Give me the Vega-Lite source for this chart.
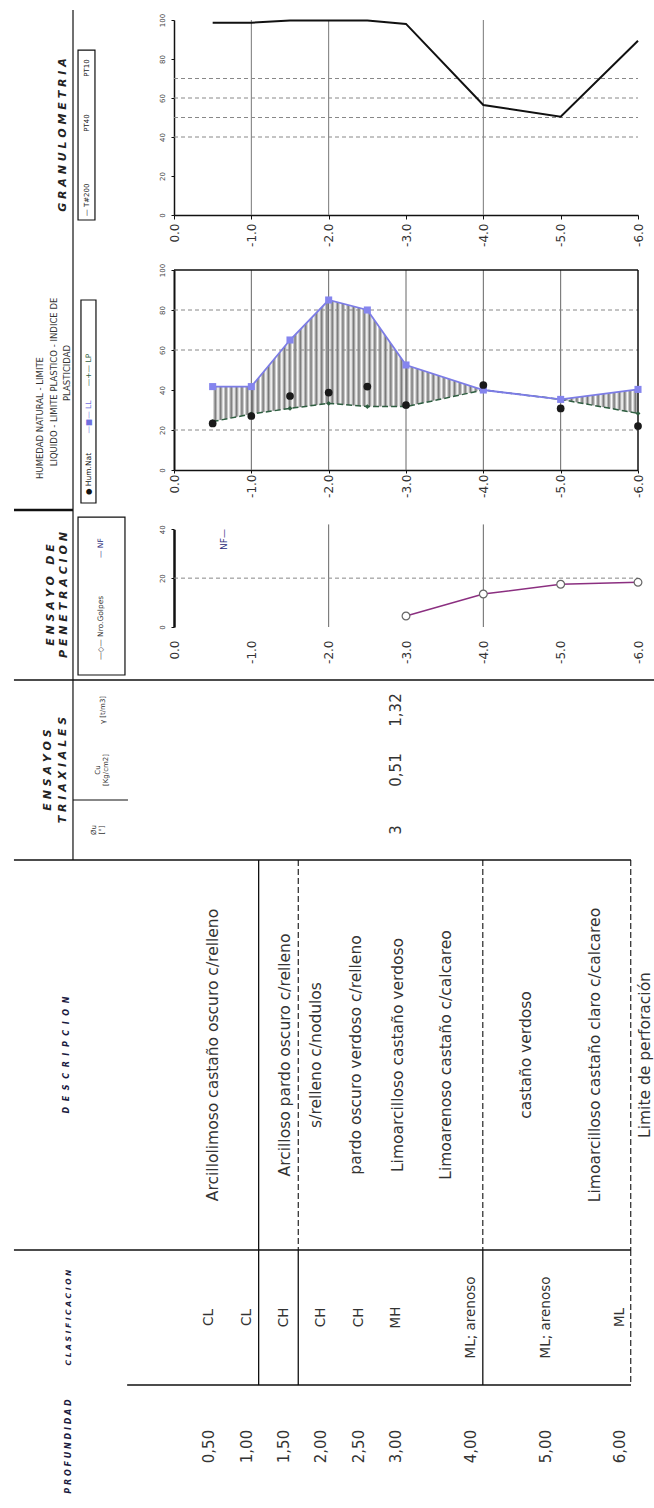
{
  "$schema": "https://vega.github.io/schema/vega-lite/v6.json",
  "padding": {"left": 12, "top": 0, "right": 0, "bottom": 0},
  "spacing": 0,
  "bounds": "flush",
  "resolve": {"scale": {"x": "independent", "y": "independent"}, "axis": {"x": "independent", "y": "independent"}},
  "config": {"view": {"stroke": null}, "font": "DejaVu Sans", "text": {"font": "DejaVu Sans"}},
  "datasets": {
    "samples": [
      {"depth": -0.5, "prof": "0,50", "clas": "CL", "gran": 98.6, "ll": 41.7, "lp": 24.2, "wn": 23.3},
      {"depth": -1.0, "prof": "1,00", "clas": "CL", "gran": 98.6, "ll": 41.7, "lp": 28.0, "wn": 27.0},
      {"depth": -1.5, "prof": "1,50", "clas": "CH", "gran": 99.8, "ll": 65.0, "lp": 30.8, "wn": 37.0},
      {"depth": -2.0, "prof": "2,00", "clas": "CH", "gran": 99.8, "ll": 85.0, "lp": 33.3, "wn": 38.7},
      {"depth": -2.5, "prof": "2,50", "clas": "CH", "gran": 99.8, "ll": 80.0, "lp": 31.7, "wn": 41.7},
      {"depth": -3.0, "prof": "3,00", "clas": "MH", "gran": 98.0, "ll": 52.5, "lp": 31.7, "wn": 32.5},
      {"depth": -4.0, "prof": "4,00", "clas": "ML; arenoso", "gran": 56.4, "ll": 40.0, "lp": 40.0, "wn": 42.5},
      {"depth": -5.0, "prof": "5,00", "clas": "ML; arenoso", "gran": 50.4, "ll": 35.3, "lp": 35.3, "wn": 30.8},
      {"depth": -6.0, "prof": "6,00", "clas": "ML", "gran": 89.4, "ll": 40.3, "lp": 28.3, "wn": 22.0}
    ],
    "spt": [
      {"depth": -3.0, "n": 4.5},
      {"depth": -4.0, "n": 13.5},
      {"depth": -5.0, "n": 17.5},
      {"depth": -6.0, "n": 18.3}
    ],
    "triax": [
      {"depth": -3.0, "col": "phi", "val": "3"},
      {"depth": -3.0, "col": "cu", "val": "0,51"},
      {"depth": -3.0, "col": "g", "val": "1,32"}
    ],
    "desc": [
      {"depth": -0.549, "text": "Arcillolimoso castaño oscuro c/relleno"},
      {"depth": -1.512, "text": "Arcilloso pardo oscuro c/relleno"},
      {"depth": -1.927, "text": "s/relleno c/nodulos"},
      {"depth": -2.463, "text": "pardo oscuro verdoso c/relleno"},
      {"depth": -3.025, "text": "Limoarcilloso castaño verdoso"},
      {"depth": -3.667, "text": "Limoarenoso castaño c/calcareo"},
      {"depth": -4.738, "text": "castaño verdoso"},
      {"depth": -5.661, "text": "Limoarcilloso castaño claro c/calcareo"},
      {"depth": -6.33, "text": "Limite de perforación"}
    ]
  },
  "vconcat": [
    {
      "width": 464, "height": 215,
      "layer": [
        {"data": {"values": [{"depth": -1}, {"depth": -2}, {"depth": -4}]},
         "mark": {"type": "rule", "color": "#777", "strokeWidth": 1},
         "encoding": {
           "x": {"field": "depth", "type": "quantitative", "scale": {"type": "linear", "domain": [0, -6], "nice": false, "zero": false},
                 "axis": {"title": null, "values": [0, -1, -2, -3, -4, -5, -6], "labelExpr": "(datum.value < 0 ? '-' : '') + format(abs(datum.value), '.1f')", "labelAngle": 270, "labelAlign": "right", "labelBaseline": "middle", "labelFontSize": 12, "labelFont": "DejaVu Sans", "labelColor": "#333", "domainColor": "#111", "domainWidth": 1.5, "tickColor": "#111", "tickSize": 4, "labelPadding": 4, "grid": false}},
           "y": {"datum": 0, "scale": {"type": "linear", "domain": [0, 100], "range": [215, 20], "nice": false, "zero": false},
                 "axis": {"title": null, "values": [0, 10, 20, 30, 40, 50, 60, 70, 80, 90, 100], "labelAngle": 270, "labelAlign": "center", "labelBaseline": "bottom", "labelFontSize": 7, "labelColor": "#444", "domainColor": "#111", "domainWidth": 1.5, "tickColor": "#111", "tickSize": 3, "labelPadding": 6, "grid": false}},
           "y2": {"datum": 100}
         }},
        {"data": {"values": [{"pct": 40}, {"pct": 50}, {"pct": 60}, {"pct": 70}]},
         "mark": {"type": "rule", "color": "#888", "strokeWidth": 1, "strokeDash": [4, 3]},
         "encoding": {"x": {"datum": 0}, "x2": {"datum": -6}, "y": {"field": "pct", "type": "quantitative"}}},
        {"data": {"name": "samples"},
         "mark": {"type": "line", "color": "#111", "strokeWidth": 2},
         "encoding": {"x": {"field": "depth", "type": "quantitative"}, "y": {"field": "gran", "type": "quantitative"}}},
        {"data": {"values": [{}]},
         "mark": {"type": "rule", "color": "#111", "strokeWidth": 1.2},
         "encoding": {"x": {"datum": 1.306}, "y": {"datum": 0}, "y2": {"datum": 105.1}}},
        {"data": {"values": [{}]},
         "mark": {"type": "text", "text": "G R A N U L O M E T R I A", "angle": 270, "fontSize": 11, "fontWeight": "bold", "fontStyle": "italic", "color": "#222", "align": "center", "baseline": "middle"},
         "encoding": {"x": {"datum": 1.435}, "y": {"datum": 41}}},
        {"data": {"values": [{}]},
         "mark": {"type": "rect", "filled": false, "color": "#111", "strokeWidth": 1.2},
         "encoding": {"x": {"datum": 1.241}, "x2": {"datum": 1.022}, "y": {"datum": -2.56}, "y2": {"datum": 84.6}}},
        {"data": {"values": [{}]},
         "mark": {"type": "text", "text": "— T#200", "angle": 270, "fontSize": 7, "color": "#222", "align": "center", "baseline": "middle"},
         "encoding": {"x": {"datum": 1.125}, "y": {"datum": 7.7}}},
        {"data": {"values": [{}]},
         "mark": {"type": "text", "text": "PT40", "angle": 270, "fontSize": 7, "color": "#222", "align": "center", "baseline": "middle"},
         "encoding": {"x": {"datum": 1.125}, "y": {"datum": 47.2}}},
        {"data": {"values": [{}]},
         "mark": {"type": "text", "text": "PT10", "angle": 270, "fontSize": 7, "color": "#222", "align": "center", "baseline": "middle"},
         "encoding": {"x": {"datum": 1.125}, "y": {"datum": 75.4}}}
      ]
    },
    {
      "width": 464, "height": 255,
      "layer": [
        {"data": {"name": "samples"},
         "mark": {"type": "area", "stroke": null, "fillOpacity": 1, "fill": {"gradient": "linear", "x1": 0, "y1": 0, "x2": 1, "y2": 0, "stops": [
           {"offset":0,"color":"#fff"},{"offset":0.00625,"color":"#777"},{"offset":0.0125,"color":"#fff"},{"offset":0.01875,"color":"#777"},{"offset":0.025,"color":"#fff"},{"offset":0.03125,"color":"#777"},{"offset":0.0375,"color":"#fff"},{"offset":0.04375,"color":"#777"},{"offset":0.05,"color":"#fff"},{"offset":0.05625,"color":"#777"},{"offset":0.0625,"color":"#fff"},{"offset":0.06875,"color":"#777"},{"offset":0.075,"color":"#fff"},{"offset":0.08125,"color":"#777"},{"offset":0.0875,"color":"#fff"},{"offset":0.09375,"color":"#777"},
           {"offset":0.1,"color":"#fff"},{"offset":0.10625,"color":"#777"},{"offset":0.1125,"color":"#fff"},{"offset":0.11875,"color":"#777"},{"offset":0.125,"color":"#fff"},{"offset":0.13125,"color":"#777"},{"offset":0.1375,"color":"#fff"},{"offset":0.14375,"color":"#777"},{"offset":0.15,"color":"#fff"},{"offset":0.15625,"color":"#777"},{"offset":0.1625,"color":"#fff"},{"offset":0.16875,"color":"#777"},{"offset":0.175,"color":"#fff"},{"offset":0.18125,"color":"#777"},{"offset":0.1875,"color":"#fff"},{"offset":0.19375,"color":"#777"},
           {"offset":0.2,"color":"#fff"},{"offset":0.20625,"color":"#777"},{"offset":0.2125,"color":"#fff"},{"offset":0.21875,"color":"#777"},{"offset":0.225,"color":"#fff"},{"offset":0.23125,"color":"#777"},{"offset":0.2375,"color":"#fff"},{"offset":0.24375,"color":"#777"},{"offset":0.25,"color":"#fff"},{"offset":0.25625,"color":"#777"},{"offset":0.2625,"color":"#fff"},{"offset":0.26875,"color":"#777"},{"offset":0.275,"color":"#fff"},{"offset":0.28125,"color":"#777"},{"offset":0.2875,"color":"#fff"},{"offset":0.29375,"color":"#777"},
           {"offset":0.3,"color":"#fff"},{"offset":0.30625,"color":"#777"},{"offset":0.3125,"color":"#fff"},{"offset":0.31875,"color":"#777"},{"offset":0.325,"color":"#fff"},{"offset":0.33125,"color":"#777"},{"offset":0.3375,"color":"#fff"},{"offset":0.34375,"color":"#777"},{"offset":0.35,"color":"#fff"},{"offset":0.35625,"color":"#777"},{"offset":0.3625,"color":"#fff"},{"offset":0.36875,"color":"#777"},{"offset":0.375,"color":"#fff"},{"offset":0.38125,"color":"#777"},{"offset":0.3875,"color":"#fff"},{"offset":0.39375,"color":"#777"},
           {"offset":0.4,"color":"#fff"},{"offset":0.40625,"color":"#777"},{"offset":0.4125,"color":"#fff"},{"offset":0.41875,"color":"#777"},{"offset":0.425,"color":"#fff"},{"offset":0.43125,"color":"#777"},{"offset":0.4375,"color":"#fff"},{"offset":0.44375,"color":"#777"},{"offset":0.45,"color":"#fff"},{"offset":0.45625,"color":"#777"},{"offset":0.4625,"color":"#fff"},{"offset":0.46875,"color":"#777"},{"offset":0.475,"color":"#fff"},{"offset":0.48125,"color":"#777"},{"offset":0.4875,"color":"#fff"},{"offset":0.49375,"color":"#777"},
           {"offset":0.5,"color":"#fff"},{"offset":0.50625,"color":"#777"},{"offset":0.5125,"color":"#fff"},{"offset":0.51875,"color":"#777"},{"offset":0.525,"color":"#fff"},{"offset":0.53125,"color":"#777"},{"offset":0.5375,"color":"#fff"},{"offset":0.54375,"color":"#777"},{"offset":0.55,"color":"#fff"},{"offset":0.55625,"color":"#777"},{"offset":0.5625,"color":"#fff"},{"offset":0.56875,"color":"#777"},{"offset":0.575,"color":"#fff"},{"offset":0.58125,"color":"#777"},{"offset":0.5875,"color":"#fff"},{"offset":0.59375,"color":"#777"},
           {"offset":0.6,"color":"#fff"},{"offset":0.60625,"color":"#777"},{"offset":0.6125,"color":"#fff"},{"offset":0.61875,"color":"#777"},{"offset":0.625,"color":"#fff"},{"offset":0.63125,"color":"#777"},{"offset":0.6375,"color":"#fff"},{"offset":0.64375,"color":"#777"},{"offset":0.65,"color":"#fff"},{"offset":0.65625,"color":"#777"},{"offset":0.6625,"color":"#fff"},{"offset":0.66875,"color":"#777"},{"offset":0.675,"color":"#fff"},{"offset":0.68125,"color":"#777"},{"offset":0.6875,"color":"#fff"},{"offset":0.69375,"color":"#777"},
           {"offset":0.7,"color":"#fff"},{"offset":0.70625,"color":"#777"},{"offset":0.7125,"color":"#fff"},{"offset":0.71875,"color":"#777"},{"offset":0.725,"color":"#fff"},{"offset":0.73125,"color":"#777"},{"offset":0.7375,"color":"#fff"},{"offset":0.74375,"color":"#777"},{"offset":0.75,"color":"#fff"},{"offset":0.75625,"color":"#777"},{"offset":0.7625,"color":"#fff"},{"offset":0.76875,"color":"#777"},{"offset":0.775,"color":"#fff"},{"offset":0.78125,"color":"#777"},{"offset":0.7875,"color":"#fff"},{"offset":0.79375,"color":"#777"},
           {"offset":0.8,"color":"#fff"},{"offset":0.80625,"color":"#777"},{"offset":0.8125,"color":"#fff"},{"offset":0.81875,"color":"#777"},{"offset":0.825,"color":"#fff"},{"offset":0.83125,"color":"#777"},{"offset":0.8375,"color":"#fff"},{"offset":0.84375,"color":"#777"},{"offset":0.85,"color":"#fff"},{"offset":0.85625,"color":"#777"},{"offset":0.8625,"color":"#fff"},{"offset":0.86875,"color":"#777"},{"offset":0.875,"color":"#fff"},{"offset":0.88125,"color":"#777"},{"offset":0.8875,"color":"#fff"},{"offset":0.89375,"color":"#777"},
           {"offset":0.9,"color":"#fff"},{"offset":0.90625,"color":"#777"},{"offset":0.9125,"color":"#fff"},{"offset":0.91875,"color":"#777"},{"offset":0.925,"color":"#fff"},{"offset":0.93125,"color":"#777"},{"offset":0.9375,"color":"#fff"},{"offset":0.94375,"color":"#777"},{"offset":0.95,"color":"#fff"},{"offset":0.95625,"color":"#777"},{"offset":0.9625,"color":"#fff"},{"offset":0.96875,"color":"#777"},{"offset":0.975,"color":"#fff"},{"offset":0.98125,"color":"#777"},{"offset":0.9875,"color":"#fff"},{"offset":0.99375,"color":"#777"},
           {"offset":1,"color":"#fff"}
         ]}},
         "encoding": {
           "x": {"field": "depth", "type": "quantitative", "scale": {"type": "linear", "domain": [0, -6], "nice": false, "zero": false},
                 "axis": {"title": null, "values": [0, -1, -2, -3, -4, -5, -6], "labelExpr": "(datum.value < 0 ? '-' : '') + format(abs(datum.value), '.1f')", "labelAngle": 270, "labelAlign": "right", "labelBaseline": "middle", "labelFontSize": 12, "labelFont": "DejaVu Sans", "labelColor": "#333", "domainColor": "#111", "domainWidth": 1.5, "tickColor": "#111", "tickSize": 3, "labelPadding": 1, "grid": false}},
           "y": {"field": "ll", "type": "quantitative", "scale": {"type": "linear", "domain": [0, 100], "range": [255, 55], "nice": false, "zero": false},
                 "axis": {"title": null, "values": [0, 10, 20, 30, 40, 50, 60, 70, 80, 90, 100], "labelAngle": 270, "labelAlign": "center", "labelBaseline": "bottom", "labelFontSize": 7, "labelColor": "#444", "domainColor": "#111", "domainWidth": 2, "tickColor": "#111", "tickSize": 3, "labelPadding": 6, "grid": false}},
           "y2": {"field": "lp"}
         }},
        {"data": {"values": [{"depth": -1}, {"depth": -2}, {"depth": -3}, {"depth": -4}, {"depth": -5}]},
         "mark": {"type": "rule", "color": "#666", "strokeWidth": 1},
         "encoding": {"x": {"field": "depth", "type": "quantitative"}, "y": {"datum": 0}, "y2": {"datum": 100}}},
        {"data": {"values": [{"pct": 20}, {"pct": 60}, {"pct": 80}]},
         "mark": {"type": "rule", "color": "#888", "strokeWidth": 1, "strokeDash": [4, 3]},
         "encoding": {"x": {"datum": 0}, "x2": {"datum": -6}, "y": {"field": "pct", "type": "quantitative"}}},
        {"data": {"values": [{}]},
         "mark": {"type": "rule", "color": "#111", "strokeWidth": 1.5},
         "encoding": {"x": {"datum": 0}, "x2": {"datum": -6}, "y": {"datum": 100}}},
        {"data": {"values": [{}]},
         "mark": {"type": "rule", "color": "#111", "strokeWidth": 1.5},
         "encoding": {"x": {"datum": -6}, "y": {"datum": 0}, "y2": {"datum": 100}}},
        {"data": {"name": "samples"},
         "mark": {"type": "line", "color": "#2e5e40", "strokeWidth": 1.5, "strokeDash": [6, 3]},
         "encoding": {"x": {"field": "depth", "type": "quantitative"}, "y": {"field": "lp", "type": "quantitative"}}},
        {"data": {"name": "samples"},
         "mark": {"type": "point", "shape": "diamond", "size": 24, "filled": true, "color": "#2e5e40", "opacity": 1},
         "encoding": {"x": {"field": "depth", "type": "quantitative"}, "y": {"field": "lp", "type": "quantitative"}}},
        {"data": {"name": "samples"},
         "mark": {"type": "line", "color": "#7c7ce6", "strokeWidth": 1.8, "point": {"shape": "square", "size": 50, "filled": true, "color": "#8585ee", "opacity": 1}},
         "encoding": {"x": {"field": "depth", "type": "quantitative"}, "y": {"field": "ll", "type": "quantitative"}}},
        {"data": {"name": "samples"},
         "mark": {"type": "point", "shape": "circle", "size": 60, "filled": true, "color": "#1a1a1a", "opacity": 1},
         "encoding": {"x": {"field": "depth", "type": "quantitative"}, "y": {"field": "wn", "type": "quantitative"}}},
        {"data": {"values": [{}]},
         "mark": {"type": "rule", "color": "#111", "strokeWidth": 1.2},
         "encoding": {"x": {"datum": 1.306}, "y": {"datum": 0}, "y2": {"datum": 127.5}}},
        {"data": {"values": [{}]},
         "mark": {"type": "text", "text": "HUMEDAD NATURAL - LIMITE", "angle": 270, "fontSize": 8.5, "color": "#333", "align": "center", "baseline": "middle"},
         "encoding": {"x": {"datum": 1.733}, "y": {"datum": 26}}},
        {"data": {"values": [{}]},
         "mark": {"type": "text", "text": "LIQUIDO - LIMITE PLASTICO - INDICE DE", "angle": 270, "fontSize": 8.5, "color": "#333", "align": "center", "baseline": "middle"},
         "encoding": {"x": {"datum": 1.552}, "y": {"datum": 44}}},
        {"data": {"values": [{}]},
         "mark": {"type": "text", "text": "PLASTICIDAD", "angle": 270, "fontSize": 8.5, "color": "#333", "align": "center", "baseline": "middle"},
         "encoding": {"x": {"datum": 1.384}, "y": {"datum": 48.5}}},
        {"data": {"values": [{}]},
         "mark": {"type": "rect", "filled": false, "color": "#111", "strokeWidth": 1.2},
         "encoding": {"x": {"datum": 1.203}, "x2": {"datum": 1.009}, "y": {"datum": -16.5}, "y2": {"datum": 85}}},
        {"data": {"values": [{}]},
         "mark": {"type": "text", "text": "● Hum.Nat", "angle": 270, "fontSize": 7.5, "color": "#111", "align": "center", "baseline": "middle"},
         "encoding": {"x": {"datum": 1.099}, "y": {"datum": -2}}},
        {"data": {"values": [{}]},
         "mark": {"type": "text", "text": "—■— LL", "angle": 270, "fontSize": 7.5, "color": "#6f6fe0", "align": "center", "baseline": "middle"},
         "encoding": {"x": {"datum": 1.099}, "y": {"datum": 26.5}}},
        {"data": {"values": [{}]},
         "mark": {"type": "text", "text": "—+— LP", "angle": 270, "fontSize": 7.5, "color": "#2e5e40", "align": "center", "baseline": "middle"},
         "encoding": {"x": {"datum": 1.099}, "y": {"datum": 50}}}
      ]
    },
    {
      "width": 464, "height": 157,
      "layer": [
        {"data": {"values": [{"depth": -2}, {"depth": -4}]},
         "mark": {"type": "rule", "color": "#666", "strokeWidth": 1},
         "encoding": {
           "x": {"field": "depth", "type": "quantitative", "scale": {"type": "linear", "domain": [0, -6], "nice": false, "zero": false},
                 "axis": {"title": null, "values": [0, -1, -2, -3, -4, -5, -6], "labelExpr": "(datum.value < 0 ? '-' : '') + format(abs(datum.value), '.1f')", "labelAngle": 270, "labelAlign": "right", "labelBaseline": "middle", "labelFontSize": 12, "labelFont": "DejaVu Sans", "labelColor": "#333", "domain": false, "ticks": false, "labelPadding": 13, "grid": false}},
           "y": {"datum": 0, "scale": {"type": "linear", "domain": [0, 40], "range": [157, 59.3], "nice": false, "zero": false},
                 "axis": {"title": null, "values": [0, 10, 20, 30, 40], "labelAngle": 270, "labelAlign": "center", "labelBaseline": "bottom", "labelFontSize": 7, "labelColor": "#444", "domainColor": "#111", "domainWidth": 2.5, "tickColor": "#111", "tickSize": 3, "labelPadding": 6, "grid": false}},
           "y2": {"datum": 42}
         }},
        {"data": {"values": [{"n": 20}]},
         "mark": {"type": "rule", "color": "#888", "strokeWidth": 1, "strokeDash": [4, 3]},
         "encoding": {"x": {"datum": 0}, "x2": {"datum": -6}, "y": {"field": "n", "type": "quantitative"}}},
        {"data": {"name": "spt"},
         "mark": {"type": "line", "color": "#8b2f80", "strokeWidth": 1.5, "point": {"shape": "circle", "size": 60, "filled": true, "fill": "#fff", "stroke": "#666", "strokeWidth": 1.2, "opacity": 1}},
         "encoding": {"x": {"field": "depth", "type": "quantitative"}, "y": {"field": "n", "type": "quantitative"}}},
        {"data": {"values": [{"depth": -0.65}]},
         "mark": {"type": "text", "text": "NF—", "angle": 270, "fontSize": 9, "color": "#1f2a7a", "align": "center", "baseline": "middle"},
         "encoding": {"x": {"field": "depth", "type": "quantitative"}, "y": {"datum": 35.8}}},
        {"data": {"values": [{}]},
         "mark": {"type": "rule", "color": "#111", "strokeWidth": 1.2},
         "encoding": {"x": {"datum": 1.306}, "y": {"datum": 0}, "y2": {"datum": 64.3}}},
        {"data": {"values": [{}]},
         "mark": {"type": "rule", "color": "#111", "strokeWidth": 2.5},
         "encoding": {"x": {"datum": 2.069}, "x2": {"datum": 1.306}, "y": {"datum": 47.9}}},
        {"data": {"values": [{}]},
         "mark": {"type": "text", "text": ["E N S A Y O \u00a0 D E", "P E N E T R A C I O N"], "lineHeight": 13, "angle": 270, "fontSize": 11, "fontWeight": "bold", "fontStyle": "italic", "color": "#222", "align": "center", "baseline": "middle"},
         "encoding": {"x": {"datum": 1.591}, "y": {"datum": 13.1}}},
        {"data": {"values": [{}]},
         "mark": {"type": "rect", "filled": false, "color": "#111", "strokeWidth": 1.2},
         "encoding": {"x": {"datum": 1.241}, "x2": {"datum": 0.634}, "y": {"datum": -19.65}, "y2": {"datum": 45}}},
        {"data": {"values": [{}]},
         "mark": {"type": "text", "text": "—◇— Nro.Golpes", "angle": 270, "fontSize": 7.5, "color": "#333", "align": "center", "baseline": "middle"},
         "encoding": {"x": {"datum": 0.944}, "y": {"datum": -0.4}}},
        {"data": {"values": [{}]},
         "mark": {"type": "text", "text": "— NF", "angle": 270, "fontSize": 7.5, "color": "#1f2a7a", "align": "center", "baseline": "middle"},
         "encoding": {"x": {"datum": 0.944}, "y": {"datum": 32.3}}}
      ]
    },
    {
      "width": 464, "height": 233,
      "layer": [
        {"data": {"name": "triax"},
         "mark": {"type": "text", "angle": 270, "fontSize": 15, "color": "#333", "align": "center", "baseline": "middle"},
         "encoding": {
           "x": {"field": "depth", "type": "quantitative", "scale": {"type": "linear", "domain": [-0.027, -6.237], "nice": false, "zero": false}, "axis": null},
           "y": {"field": "col", "type": "nominal", "scale": {"type": "band", "domain": ["g", "cu", "phi"], "range": [53, 233], "paddingInner": 0, "paddingOuter": 0}, "axis": null},
           "text": {"field": "val"}
         }},
        {"data": {"values": [{}]},
         "mark": {"type": "rule", "color": "#111", "strokeWidth": 1.3},
         "encoding": {"x": {"datum": 2.115}, "x2": {"datum": -6.464}, "y": {"datum": "g", "bandPosition": 0}}},
        {"data": {"values": [{}]},
         "mark": {"type": "rule", "color": "#111", "strokeWidth": 1.2},
         "encoding": {"x": {"datum": 1.325}}},
        {"data": {"values": [{}]},
         "mark": {"type": "rule", "color": "#111", "strokeWidth": 1.2},
         "encoding": {"x": {"datum": 1.325}, "x2": {"datum": 0.589}, "y": {"datum": "phi", "bandPosition": 0}}},
        {"data": {"values": [{}]},
         "mark": {"type": "text", "text": ["E N S A Y O S", "T R I A X I A L E S"], "lineHeight": 15, "angle": 270, "fontSize": 11, "fontWeight": "bold", "fontStyle": "italic", "color": "#222", "align": "center", "baseline": "middle"},
         "encoding": {"x": {"datum": 1.66}, "y": {"datum": "cu"}}},
        {"data": {"values": [{}]},
         "mark": {"type": "text", "text": "γ [t/m3]", "angle": 270, "fontSize": 7, "color": "#333", "align": "center", "baseline": "middle"},
         "encoding": {"x": {"datum": 0.92}, "y": {"datum": "g"}}},
        {"data": {"values": [{}]},
         "mark": {"type": "text", "text": ["Cu", "[Kg/cm2]"], "lineHeight": 8, "angle": 270, "fontSize": 7, "color": "#333", "align": "center", "baseline": "middle"},
         "encoding": {"x": {"datum": 0.99}, "y": {"datum": "cu"}}},
        {"data": {"values": [{}]},
         "mark": {"type": "text", "text": ["Øu", "[°]"], "lineHeight": 8, "angle": 270, "fontSize": 7, "color": "#333", "align": "center", "baseline": "middle"},
         "encoding": {"x": {"datum": 1.04}, "y": {"datum": "phi"}}}
      ]
    },
    {
      "width": 464, "height": 390,
      "layer": [
        {"data": {"values": [{"depth": -1.16}]},
         "mark": {"type": "rule", "color": "#111", "strokeWidth": 1.3},
         "encoding": {"x": {"field": "depth", "type": "quantitative", "scale": {"type": "linear", "domain": [-0.027, -6.237], "nice": false, "zero": false}, "axis": null}}},
        {"data": {"values": [{"depth": -1.69}, {"depth": -4.16}, {"depth": -6.14}]},
         "mark": {"type": "rule", "color": "#111", "strokeWidth": 1.1, "strokeDash": [6, 3]},
         "encoding": {"x": {"field": "depth", "type": "quantitative"}}},
        {"data": {"values": [{}]},
         "mark": {"type": "rule", "color": "#111", "strokeWidth": 1.3},
         "encoding": {"x": {"datum": 2.115}, "x2": {"datum": -6.143}, "y": {"datum": 1, "scale": {"type": "linear", "domain": [0, 1], "nice": false, "zero": false}, "axis": null}}},
        {"data": {"values": [{}]},
         "mark": {"type": "rule", "color": "#111", "strokeWidth": 1.3},
         "encoding": {"x": {"datum": 2.115}, "x2": {"datum": -6.143}, "y": {"datum": 0}}},
        {"data": {"name": "desc"},
         "mark": {"type": "text", "angle": 270, "fontSize": 15.5, "color": "#333", "align": "center", "baseline": "middle"},
         "encoding": {"x": {"field": "depth", "type": "quantitative"}, "text": {"field": "text"}}},
        {"data": {"values": [{}]},
         "mark": {"type": "text", "text": "D \u00a0E \u00a0S \u00a0C \u00a0R \u00a0I \u00a0P \u00a0C \u00a0I \u00a0O \u00a0N", "angle": 270, "fontSize": 8, "fontWeight": "bold", "fontStyle": "italic", "color": "#1a1a40", "align": "center", "baseline": "middle"},
         "encoding": {"x": {"datum": 1.405}}}
      ]
    },
    {
      "width": 464, "height": 135,
      "layer": [
        {"data": {"values": [{"depth": -1.16}, {"depth": -1.69}, {"depth": -4.16}]},
         "mark": {"type": "rule", "color": "#111", "strokeWidth": 1.3},
         "encoding": {"x": {"field": "depth", "type": "quantitative", "scale": {"type": "linear", "domain": [-0.027, -6.237], "nice": false, "zero": false}, "axis": null}}},
        {"data": {"values": [{"depth": -6.14}]},
         "mark": {"type": "rule", "color": "#111", "strokeWidth": 1.1, "strokeDash": [6, 3]},
         "encoding": {"x": {"field": "depth", "type": "quantitative"}}},
        {"data": {"values": [{}]},
         "mark": {"type": "rule", "color": "#111", "strokeWidth": 1.3},
         "encoding": {"x": {"datum": 0.6}, "x2": {"datum": -6.143}, "y": {"datum": 0, "scale": {"type": "linear", "domain": [0, 1], "nice": false, "zero": false}, "axis": null}}},
        {"data": {"name": "samples"},
         "mark": {"type": "text", "angle": 270, "fontSize": 13.5, "color": "#333", "align": "center", "baseline": "middle"},
         "encoding": {"x": {"field": "depth", "type": "quantitative"}, "text": {"field": "clas"}}},
        {"data": {"values": [{}]},
         "mark": {"type": "text", "text": "C L A S I F I C A C I O N", "angle": 270, "fontSize": 7.5, "fontWeight": "bold", "fontStyle": "italic", "color": "#1a1a40", "align": "center", "baseline": "middle"},
         "encoding": {"x": {"datum": 1.378}}}
      ]
    },
    {
      "width": 464, "height": 123,
      "layer": [
        {"data": {"name": "samples"},
         "mark": {"type": "text", "angle": 270, "fontSize": 15, "color": "#333", "align": "center", "baseline": "middle"},
         "encoding": {"x": {"field": "depth", "type": "quantitative", "scale": {"type": "linear", "domain": [-0.027, -6.237], "nice": false, "zero": false}, "axis": null}, "text": {"field": "prof"}}},
        {"data": {"values": [{}]},
         "mark": {"type": "text", "text": "P R O F U N D I D A D", "angle": 270, "fontSize": 8, "fontWeight": "bold", "fontStyle": "italic", "color": "#1a1a40", "align": "center", "baseline": "middle"},
         "encoding": {"x": {"datum": 1.378}}}
      ]
    }
  ]
}
